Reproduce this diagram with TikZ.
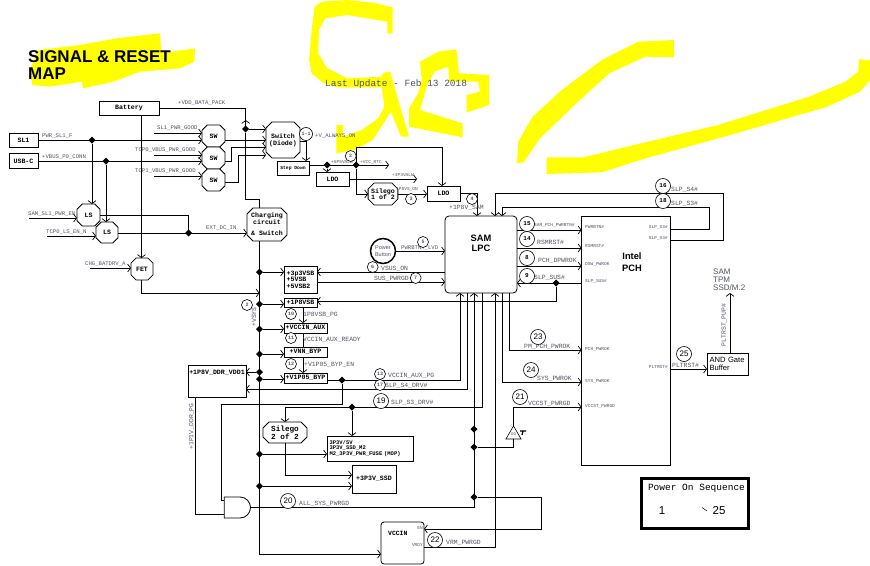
\documentclass[tikz,border=0pt]{standalone}
\usepackage{fontspec}
\setmainfont{Liberation Sans}
\setmonofont{Liberation Mono}
\usepackage{xcolor}
\usepackage{tikz}
\usetikzlibrary{arrows.meta,positioning,shapes.geometric,shapes.misc,shapes.gates.logic.US}
\definecolor{scribble}{HTML}{FFFF00}
\definecolor{labgrey}{HTML}{4F5366}
\newcommand{\fz}[1]{\fontsize{#1}{#1}\selectfont}
\tikzset{
  blk/.style 2 args={rectangle, draw=black, fill=white, line width=0.8pt, align=center, inner sep=0pt, outer sep=0pt,
               minimum width=#1, minimum height=#2, font=\fz{6.6}\ttfamily\bfseries},
  oct/.style 2 args={chamfered rectangle, chamfered rectangle xsep=3pt, chamfered rectangle ysep=3pt, draw=black, fill=white,
               line width=0.8pt, align=center, inner sep=0pt, outer sep=0pt,
               minimum width=#1, minimum height=#2, font=\fz{6.6}\ttfamily\bfseries},
  lab/.style={anchor=west, inner sep=0pt, text=labgrey, font=\fz{5.6}\ttfamily},
  labl/.style={anchor=west, inner sep=0pt, text=labgrey, font=\fz{6.4}\ttfamily},
  pinl/.style={anchor=west, inner sep=0pt, text=labgrey, font=\fz{4.5}\ttfamily},
  num/.style={circle, draw=black, fill=white, line width=0.6pt, inner sep=0pt, minimum size=11pt, text=labgrey, font=\fz{5}\ttfamily\bfseries},
  bnum/.style={circle, draw=black, fill=white, line width=0.6pt, inner sep=0pt, minimum size=15pt, font=\fz{8}},
  jct/.style={diamond, fill=black, inner sep=0pt, outer sep=0pt, minimum size=7pt},
  wire/.style={line width=0.8pt, draw=black},
  arr/.style={-{Straight Barb[length=3pt,width=8pt,line width=0.7pt]}, line width=0.8pt, draw=black},
  scrib/.style={fill=scribble},
}
\begin{document}
\begin{tikzpicture}[x=1pt,y=-1pt]
\useasboundingbox (0,0) rectangle (870,565);
\fill[scrib,shift={(0,30)},x=0.3333pt,y=-0.3333pt](115,60)--(240,45)--(350,25)--(480,10)--(483,55)--(490,68)--(585,55)--(583,95)--(540,115)--(420,125)--(340,155)--(250,175)--(245,155)--(150,170)--(97,165)--(90,120)--cycle;
\fill[scrib,shift={(300,0)},x=0.3636pt,y=-0.3333pt](240,100)--(255,100)--(255,22)--(200,8)--(130,0)--(60,5)--(40,20)--(32,90)--(25,180)--(32,220)--(65,250)--(105,262)--(225,262)--(232,320)--(215,355)--(170,390)--(118,410)--(118,375)--(100,375)--(100,460)--(150,450)--(200,420)--(250,335)--(278,410)--(300,410)--(270,300)--(248,215)--(230,218)--(225,230)--(130,235)--(75,205)--(50,160)--(52,90)--(70,55)--(130,45)--(240,65)--cycle;
\fill[scrib,shift={(300,0)},x=0.3636pt,y=-0.3333pt](330,185)--(380,155)--(430,148)--(437,220)--(520,225)--(520,315)--(458,338)--(458,285)--(495,275)--(490,245)--(410,245)--(408,200)--(370,215)--(350,255)--(330,330)--(447,370)--(447,412)--(300,380)--(300,325)--(325,280)--(335,240)--cycle;
\fill[scrib,shift={(300,0)},x=0.3636pt,y=-0.3333pt](1028,120)--(930,125)--(830,180)--(720,270)--(640,350)--(600,425)--(597,490)--(615,487)--(660,415)--(760,310)--(850,220)--(950,170)--(1028,172)--cycle;
\fill[scrib,shift={(300,0)},x=0.3636pt,y=-0.3333pt](678,472)--(780,472)--(900,440)--(1150,375)--(1400,290)--(1500,245)--(1535,215)--(1538,178)--(1568,180)--(1568,240)--(1540,275)--(1450,320)--(1200,400)--(950,475)--(830,517)--(678,522)--cycle;

\node[anchor=north west,inner sep=0pt,align=left,font=\fz{17}\bfseries] (title) at (28,50){SIGNAL \& RESET\\MAP};
\node[anchor=west,inner sep=0pt,text=labgrey,font=\fz{9.45}\ttfamily] (update) at (325,84){Last Update - Feb 13 2018};

\node[blk={60pt}{14pt}] (batt) at (129,108){Battery};
\node[blk={29pt}{14pt}] (sl1) at (23.5,140){SL1};
\node[blk={29pt}{15pt}] (usbc) at (23.5,161){USB-C};
\node[oct={23pt}{22pt}] (sw1) at (213.5,136){SW};
\node[oct={23pt}{22pt},below=0pt of sw1] (sw2){SW};
\node[oct={23pt}{22pt},below=0pt of sw2] (sw3){SW};
\node[oct={34pt}{36pt}] (swd) at (283,140){Switch\\(Diode)};
\node[blk={32pt}{14pt},font=\fz{4.7}\ttfamily\bfseries] (stepd) at (293,168){Step Down};
\node[blk={33pt}{14pt}] (ldoa) at (332.5,179){LDO};
\node[blk={33pt}{15pt}] (ldob) at (443.5,193.5){LDO};
\node[oct={26pt}{22pt}] (sila) at (383,194){Silego\\1 of 2};
\node[oct={40pt}{33pt}] (chg) at (267,224.5){Charging\\circuit\\[5pt]\& Switch};
\node[oct={23pt}{22pt}] (lsa) at (88.5,215){LS};
\node[oct={22pt}{21pt}] (lsb) at (107,232.5){LS};
\node[oct={22pt}{22pt}] (fet) at (142,269){FET};
\node[blk={33pt}{27pt},align=left] (vsb) at (300.5,279.5){+3p3VSB\\+5VSB\\+5VSB2};
\node[blk={33pt}{9pt}] (pvsb) at (300.5,302.5){+1P8VSB};
\node[blk={43pt}{10pt}] (vaux) at (305.5,328){+VCCIN\_AUX};
\node[blk={43pt}{10pt},below=14pt of vaux] (vnn){+VNN\_BYP};
\node[blk={43pt}{10pt},below=16pt of vnn] (vbyp){+V1P05\_BYP};
\node[blk={58pt}{32pt}] (ddr) at (217,381){+1P8V\_DDR\_VDD1\\[10pt]~};
\node[oct={44pt}{21pt},font=\fz{7.7}\ttfamily\bfseries] (silb) at (285,432.5){Silego\\2 of 2};
\node[blk={86pt}{25pt},align=left,font=\fz{5.5}\ttfamily\bfseries,text width=81pt] (ssdm) at (370,448.5){3P3V/5V\\3P3V\_SSD\_M2\\M2\_3P3V\_PWR\_FUSE (MOP)};
\node[blk={44pt}{28pt}] (ssd) at (374,479){+3P3V\_SSD};
\node[and gate US,logic gate inputs=nn,draw=black,fill=white,line width=0.8pt,minimum width=19pt,minimum height=21pt,inner sep=0pt,outer sep=0pt] (andg) at (236.5,507.5){};
\node[blk={43pt}{42pt},rounded corners=3pt] (vccin) at (402.5,543){};
\node[anchor=west,inner sep=0pt,font=\fz{6.4}\ttfamily\bfseries] (vccint) at (388,533){VCCIN};
\node[pinl,anchor=east] (vccen) at (423,528){EN};
\node[pinl,anchor=east] (vccrdy) at (423,545){VRDY};
\node[blk={72pt}{77pt},rounded corners=4pt,font=\fz{9.3}\bfseries] (lpc) at (481,254.5){};
\node[inner sep=0pt,align=center,font=\fz{9.3}\bfseries] (lpct) at (481,243.5){SAM\\[1pt]LPC};
\node[oct={89pt}{249pt},chamfered rectangle xsep=7pt,chamfered rectangle ysep=7pt] (pch) at (626,340.5){};
\node[inner sep=0pt,align=center,font=\fz{9.3}\bfseries] (pcht) at (632,262.5){Intel\\[2.5pt]PCH};
\node[blk={41pt}{22pt},align=left,font=\fz{7.6},text width=36pt] (gate) at (727.5,364){AND Gate\\Buffer};
\node[circle,draw=black,line width=1.5pt,inner sep=0pt,minimum size=25pt,align=center,text=labgrey,font=\fz{5.5}] (pwrb) at (383,251){Power\\[1pt]Button};
\node[regular polygon,regular polygon sides=3,draw=black,line width=0.6pt,inner sep=0pt,outer sep=0pt,minimum size=17.4pt,text=labgrey,font=\fz{4}\ttfamily] (od) at (513.5,434.6){OD};
\node[blk={107pt}{50pt},line width=3.5pt] (seq) at (695,503.5){};
\node[anchor=center,inner sep=0pt,font=\fz{9.5}\ttfamily] (seqt) at (696.5,488){Power On Sequence};
\node[inner sep=0pt,font=\fz{11.5}] (seqa) at (662,510.5){1};
\node[inner sep=0pt,font=\fz{11.5}] (seqb) at (719,510.5){25};
\coordinate (seqc) at (702,507.5);
\coordinate (seqd) at (707,511);
\coordinate (pulla) at (520,431);
\coordinate (pullb) at (526,431);
\coordinate (pullc) at (523,431);
\coordinate (pulld) at (522,435);

\node[jct] (ja) at (92,140){};
\node[jct] (jb) at (106,161){};
\node[jct] (jc) at (245.7,129){};
\node[jct] (jd) at (188.7,233){};
\node[jct] (je) at (327,165){};
\node[jct] (jf) at (356,165){};
\node[jct] (jg) at (556,283){};
\node[jct] (jh) at (342,380){};
\node[jct] (ji) at (352,407){};
\node[jct] (raila) at (259.5,272){};
\node[jct] (railb) at (259.5,304){};
\node[jct] (railc) at (259.5,329){};
\node[jct] (raild) at (259.5,354){};
\node[jct] (raile) at (259.5,372){};
\node[jct] (railf) at (259.5,379){};
\node[jct] (railg) at (259.5,454){};
\node[jct] (railh) at (259.5,486){};
\node[jct] (sysa) at (474,429){};
\node[jct] (sysb) at (474,447){};
\node[jct] (sysc) at (474,497){};

\coordinate (inslp) at (154,133);
\coordinate (intca) at (154,155);
\coordinate (intcb) at (154,176);
\coordinate (insam) at (29,218);
\coordinate (inls) at (47,236);
\coordinate (inchg) at (90,268);
\coordinate (sysin) at (259.5,293);
\coordinate (outrtc) at (389,165);
\coordinate (out3v) at (417,179);
\coordinate (topl) at (356,147);
\coordinate (batd) at (245.7,199);
\coordinate (cs4) at (723,193);
\coordinate (cs3) at (709,207);
\coordinate (andtop) at (221,404);
\coordinate (enr) at (541.7,497);
\coordinate (outtpm) at (730,293);
\coordinate (cswa) at (231,147);
\coordinate (cswb) at (238,155);

\draw[wire](batt.east)-|(jc)--(batd)-|(259.5,0|-chg.north);
\draw[arr](jc)--+(0,-9);
\draw[arr](jc)--(swd.west|-jc);
\draw[arr](sl1.east)--(sw1.west|-sl1);
\draw[arr](usbc.east)--(sw2.west|-usbc);
\draw[arr](ja)--(92,0|-lsa.north);
\draw[arr](jb)--(106,0|-lsb.north);
\draw[arr](141.5,0|-batt.south)--(141.5,0|-fet.north);
\draw[arr](inslp)--(sw1.west|-inslp);
\draw[arr](intca)--(sw2.west|-intca);
\draw[arr](intcb)--(sw3.west|-intcb);
\draw[arr](sw1.east|-0,140)--(swd.west|-0,140);
\draw[arr](sw2.east|-0,161)-|(cswa)--(swd.west|-cswa);
\draw[arr](sw3.east|-0,182)-|(cswb)--(swd.west|-cswb);
\draw[arr](insam)--(lsa.west|-insam);
\draw[arr](inls)--(lsb.west|-inls);
\draw[arr](inchg)--(fet.west|-inchg);
\draw[wire](lsa.east|-0,215)-|(jd);
\draw[arr](lsb.east|-jd)--(chg.west|-jd);
\draw[arr](141.5,0|-fet.south)|-(sysin);
\draw[arr](259.5,0|-chg.south)|-(vccin.west|-0,554);
\draw[arr](raila)--(vsb.west|-raila);
\draw[arr](railb)--(pvsb.west|-railb);
\draw[arr](railc)--(vaux.west|-railc);
\draw[arr](raild)--(vnn.west|-raild);
\draw[arr](railf)--(vbyp.west|-railf);
\draw[arr](raile)--(ddr.east|-raile);
\draw[arr](railg)--(ssdm.west|-railg);
\draw[arr](railh)--(ssd.west|-railh);
\draw[arr](swd.east|-0,141)-|(306,0|-stepd.north);
\draw[arr](stepd.east|-je)--(outrtc);
\draw[arr](je)--(327,0|-ldoa.north);
\draw[arr](ldoa.east)--(out3v);
\draw[arr](jf)|-(sila.west);
\draw[arr](jf)--(topl)-|(442,0|-ldob.north);
\draw[arr](sila.east)--(ldob.west|-sila);
\draw[arr](ldob.east)-|(477,0|-lpc.north);
\draw[arr](pwrb)--(lpc.west|-pwrb);
\draw[arr](lpc.west|-0,272)--(vsb.east|-0,272);
\draw[arr](vsb.east|-0,282)--(lpc.west|-0,282);
\draw[arr](pch.west|-jg)--(lpc.east|-jg);
\draw[arr](jg)|-(pvsb.east|-0,301);
\draw[arr](303,0|-pvsb.south)--(303,0|-vaux.north);
\draw[wire](303,0|-vaux.south)--(303,0|-vnn.north);
\draw[arr](303,0|-vnn.south)--(303,0|-vbyp.north);
\draw[arr](vbyp.east|-jh)-|(460,0|-lpc.south);
\draw[arr](467,0|-lpc.south)|-(ddr.east|-0,389);
\draw[wire](jh)|-(andtop)|-(andg.west|-0,500);
\draw[wire](195,0|-ddr.south)|-(andg.west|-0,514);
\draw[arr](482,0|-lpc.south)--(482,0|-ji)-|(silb.north);
\draw[arr](ji)--(ji|-ssdm.north);
\draw[arr](silb.south)|-(ssd.west|-0,475);
\draw[arr](andg.east)-|(474,0|-lpc.south);
\draw[wire](sysb)-|(od.side 2);
\draw[arr](od.corner 1)|-(pch.west|-0,407);
\draw[arr](sysc)--(enr)|-(vccin.east|-0,529);
\draw[arr](vccin.east|-0,547)-|(495,0|-lpc.south);
\draw[arr](509,0|-lpc.south)|-(pch.west|-0,350);
\draw[arr](502,0|-lpc.south)|-(pch.west|-0,382);
\draw[arr](lpc.east|-0,230)--(pch.west|-0,230);
\draw[arr](lpc.east|-0,248)--(pch.west|-0,248);
\draw[arr](lpc.east|-0,266)--(pch.west|-0,266);
\draw[arr](pch.east|-0,240)-|(cs4)-|(495,0|-lpc.north);
\draw[arr](pch.east|-0,229)-|(cs3)-|(502,0|-lpc.north);
\draw[arr](pch.east|-0,369)--(gate.west|-0,369);
\draw[arr](730,0|-gate.north)--(outtpm);
\draw[line width=0.5pt,draw=black](seqc)--(seqd);
\draw[line width=1.2pt,draw=black](pulla)--(pullb) (pullc)--(pulld);

\node[lab] (lvdd) at (178,103){+VDD\_BATA\_PACK};
\node[lab] (lsl1) at (42,136){PWR\_SL1\_F};
\node[lab] (lvbus) at (42,157){+VBUS\_P0\_CONN};
\node[lab] (lslg) at (157,128){SL1\_PWR\_GOOD};
\node[lab] (ltca) at (135,150){TCP0\_VBUS\_PWR\_GOOD};
\node[lab] (ltcb) at (135,171){TCP1\_VBUS\_PWR\_GOOD};
\node[lab] (lsam) at (28,214){SAM\_SL1\_PWR\_EN};
\node[lab] (ltls) at (46,232){TCP0\_LS\_EN\_N};
\node[lab] (lchg) at (85,264){CHG\_BATDRV\_A};
\node[lab] (lext) at (206,228){EXT\_DC\_IN};
\node[lab] (lalw) at (315,136){+V\_ALWAYS\_ON};
\node[pinl] (lpsv) at (331,162){+5P5VALW};
\node[pinl] (lrtc) at (360,162){+VCC\_RTC};
\node[pinl] (lthv) at (392,175){+3P3VALW};
\node[pinl] (lsen) at (396,189){1P8VS\_ON};
\node[labl] (lsm) at (449,208){+1P8V\_SAM};
\node[lab] (lbtn) at (401,248){PWRBTN\#\_LVD};
\node[labl] (lsus) at (381,269){VSUS\_ON};
\node[labl] (lspg) at (374,279){SUS\_PWRGD};
\node[labl] (lpg) at (303,315){1P8VSB\_PG};
\node[labl] (lrdy) at (303,340){VCCIN\_AUX\_READY};
\node[labl] (lbyp) at (304,365){+V1P05\_BYP\_EN};
\node[labl] (lauxpg) at (388,376){VCCIN\_AUX\_PG};
\node[labl] (ls4d) at (385,386){SLP\_S4\_DRV\#};
\node[labl] (ls3d) at (391,403){SLP\_S3\_DRV\#};
\node[labl] (lall) at (299,504){ALL\_SYS\_PWRGD};
\node[labl] (lvrm) at (446,543){VRM\_PWRGD};
\node[labl] (lvst) at (528,404){VCCST\_PWRGD};
\node[labl] (lsysp) at (537,379){SYS\_PWROK};
\node[labl] (lpmp) at (524,347){PM\_PCH\_PWROK};
\node[labl] (lplt) at (672,365){PLTRST\#};
\node[pinl] (lbtp) at (534,225){SAM\_PCH\_PWRBTN\#};
\node[labl] (lrsm) at (537,242){RSMRST\#};
\node[labl] (ldpw) at (538,261){PCH\_DPWROK};
\node[labl] (lsp) at (534,278){SLP\_SUS\#};
\node[labl] (ls4) at (671,190){SLP\_S4\#};
\node[labl] (ls3) at (671,204){SLP\_S3\#};
\node[labl,anchor=center,rotate=90] (lsys) at (254,317){+VSYS};
\node[labl,anchor=center,rotate=90] (lddr) at (191.5,426.5){+1P1V\_DDR\_PG};
\node[labl,anchor=center,rotate=90] (lpup) at (724,325){PLTRST\_PUP\#};
\node[anchor=west,inner sep=0pt,align=left,text=labgrey,font=\fz{8}] (ltpm) at (713,280){SAM\\TPM\\SSD/M.2};

\node[pinl] (ppw) at (585,227){PWRBTN\#};
\node[pinl] (prs) at (585,246){RSMRST\#};
\node[pinl] (pds) at (585,264){DSW\_PWROK};
\node[pinl] (psu) at (585,281){SLP\_SUS\#};
\node[pinl] (ppc) at (585,349){PCH\_PWROK};
\node[pinl] (psy) at (585,381){SYS\_PWROK};
\node[pinl] (pvc) at (585,406){VCCST\_PWRGD};
\node[pinl,anchor=east] (ps3) at (668,227){SLP\_S3\#};
\node[pinl,anchor=east] (ps4) at (668,238){SLP\_S4\#};
\node[pinl,anchor=east] (ppl) at (668,367){PLTRST\#};

\node[num,minimum size=13pt] (naa) at (306,134){1-1};
\node[num] (nb) at (350.7,156){2};
\node[num] (nc) at (411,199){3};
\node[num] (nd) at (472,199){4};
\node[num] (ne) at (423,242){5};
\node[num] (nf) at (372.7,267){6};
\node[num] (ng) at (415.7,278){7};
\node[num] (nr) at (247,305){2};
\node[num] (nj) at (291,314){10};
\node[num] (nk) at (291,338){11};
\node[num] (nl) at (291,364){12};
\node[num] (nm) at (380,374){13};
\node[num] (nq) at (380,385){17};
\node[bnum] (ns) at (381,401){19};
\node[bnum] (nt) at (288,501){20};
\node[bnum] (nu) at (520,397){21};
\node[bnum] (nv) at (435,540){22};
\node[bnum] (nw) at (538,337){23};
\node[bnum] (nx) at (531,370){24};
\node[bnum] (ny) at (684,354){25};
\node[bnum,font=\fz{6}\ttfamily\bfseries] (no) at (527,224){15};
\node[bnum,font=\fz{6}\ttfamily\bfseries] (nn) at (527,239){14};
\node[bnum,font=\fz{6}\ttfamily\bfseries] (nh) at (527,258){8};
\node[bnum,font=\fz{6}\ttfamily\bfseries] (ni) at (527,276){9};
\node[bnum,font=\fz{6}\ttfamily\bfseries] (np) at (663,186){16};
\node[bnum,font=\fz{6}\ttfamily\bfseries] (nq2) at (663,201){18};
\end{tikzpicture}
\end{document}
